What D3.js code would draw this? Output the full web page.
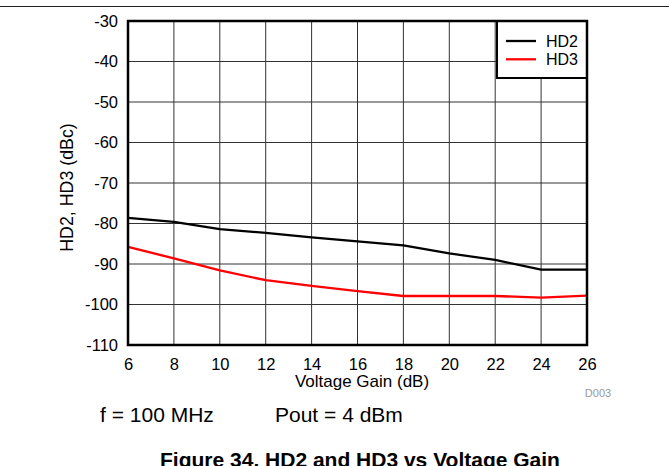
<!DOCTYPE html>
<html><head><meta charset="utf-8">
<script src="https://cdn.jsdelivr.net/npm/d3@7"></script>
<style>body{margin:0;background:#fff}svg{display:block;font-family:"Liberation Sans",Arial,sans-serif}</style>
</head><body>
<script>
const gain = [6,8,10,12,14,16,18,20,22,24,26];
const hd2 = [-78.6,-79.6,-81.4,-82.3,-83.4,-84.4,-85.4,-87.4,-89.0,-91.4,-91.4];
const hd3 = [-85.8,-88.6,-91.6,-94.0,-95.4,-96.7,-97.9,-97.9,-97.9,-98.3,-97.8];
const xTicks = [6,8,10,12,14,16,18,20,22,24,26];
const yTicks = [-30,-40,-50,-60,-70,-80,-90,-100,-110];
const seriesNames = ["HD2","HD3"];
const seriesColors = ["#000000","#ff0000"];

const W=669,H=466;
const svg=d3.select("body").append("svg").attr("width",W).attr("height",H);
const L=128,R=587,T=21,B=345;
const x=d3.scaleLinear().domain([6,26]).range([L,R]);
const y=d3.scaleLinear().domain([-110,-30]).range([B,T]);

svg.append("line").attr("x1",0).attr("x2",W).attr("y1",6.5).attr("y2",6.5).attr("stroke","#222").attr("stroke-width",1);

// grid
svg.append("g").selectAll("line").data(xTicks.slice(1,-1)).join("line")
 .attr("x1",d=>x(d)).attr("x2",d=>x(d)).attr("y1",T).attr("y2",B).attr("stroke","#333").attr("stroke-width",1);
svg.append("g").selectAll("line").data(yTicks.slice(1,-1)).join("line")
 .attr("y1",d=>y(d)).attr("y2",d=>y(d)).attr("x1",L).attr("x2",R).attr("stroke","#333").attr("stroke-width",1);

// axes via d3
const fmt=d=>String(d);
const xa=svg.append("g").attr("transform",`translate(0,${B})`).call(d3.axisBottom(x).tickValues(xTicks).tickSize(0).tickPadding(13).tickFormat(fmt));
xa.select(".domain").remove();
xa.selectAll("text").attr("font-size",16.5).attr("font-family","Liberation Sans, Arial").attr("fill","#000");
const ya=svg.append("g").attr("transform",`translate(${L},0)`).call(d3.axisLeft(y).tickValues(yTicks).tickSize(0).tickPadding(10).tickFormat(fmt));
ya.select(".domain").remove();
ya.selectAll("text").attr("font-size",16.5).attr("font-family","Liberation Sans, Arial").attr("fill","#000");

// lines
const line=d3.line().x((d,i)=>x(gain[i])).y(d=>y(d));
[hd2,hd3].forEach((s,k)=>{
  svg.append("path").attr("d",line(s)).attr("fill","none").attr("stroke",seriesColors[k]).attr("stroke-width",2.3).attr("stroke-linejoin","round");
});

// legend
const lg={x0:497,y0:T,y1:78};
svg.append("rect").attr("x",lg.x0).attr("y",lg.y0).attr("width",R-lg.x0).attr("height",lg.y1-lg.y0).attr("fill","#fff").attr("stroke","#000").attr("stroke-width",2);
seriesNames.forEach((n,k)=>{
  const yy=41+k*18.3;
  svg.append("line").attr("x1",506).attr("x2",536).attr("y1",yy).attr("y2",yy).attr("stroke",seriesColors[k]).attr("stroke-width",2.3);
  svg.append("text").attr("x",546).attr("y",yy+6).attr("font-size",16).text(n);
});

// frame
svg.append("rect").attr("x",L).attr("y",T).attr("width",R-L).attr("height",B-T).attr("fill","none").attr("stroke","#000").attr("stroke-width",2.5);

// titles
svg.append("text").attr("x",362).attr("y",387).attr("text-anchor","middle").attr("font-size",17).text("Voltage Gain (dB)");
svg.append("text").attr("transform",`translate(73,187.5) rotate(-90)`).attr("text-anchor","middle").attr("font-size",17.8).text("HD2, HD3 (dBc)");
svg.append("text").attr("x",598).attr("y",397).attr("text-anchor","middle").attr("font-size",11).attr("fill","#999").text("D003");
svg.append("text").attr("x",100).attr("y",422).attr("font-size",21).text("f = 100 MHz");
svg.append("text").attr("x",275).attr("y",422).attr("font-size",21).text("Pout = 4 dBm");
svg.append("text").attr("x",360).attr("y",467).attr("text-anchor","middle").attr("font-size",21).attr("font-weight","bold").text("Figure 34. HD2 and HD3 vs Voltage Gain");
</script>
</body></html>
